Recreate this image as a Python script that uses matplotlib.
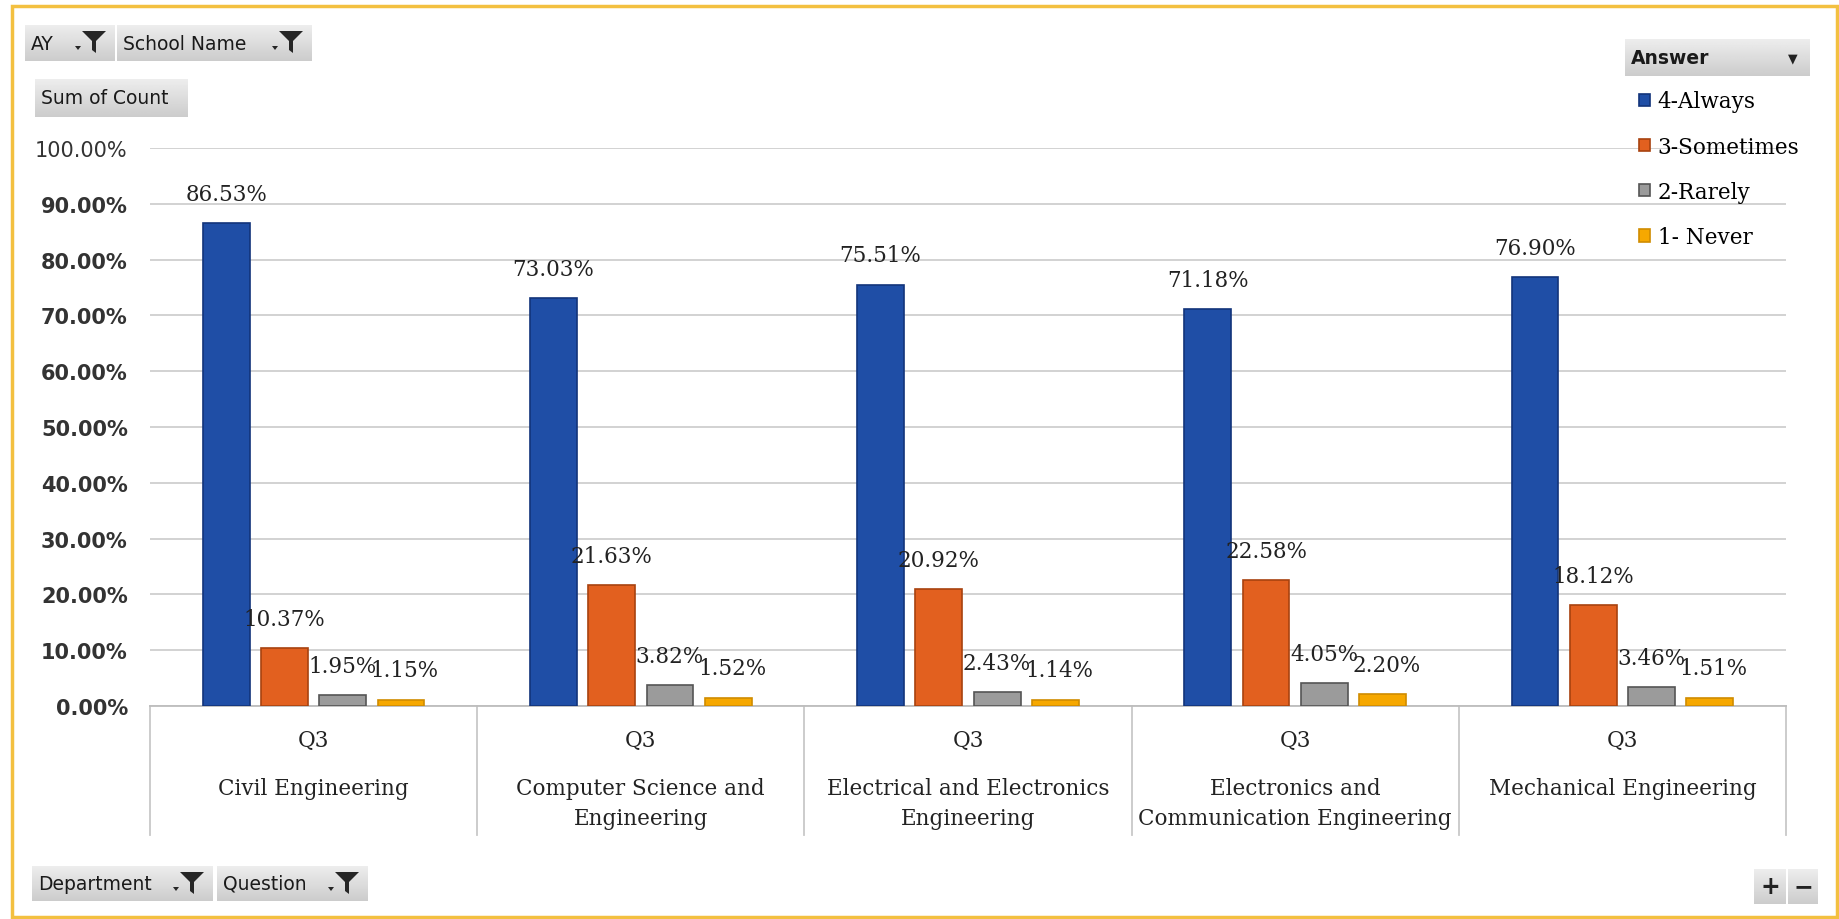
import matplotlib
matplotlib.use("Agg")
import matplotlib.pyplot as plt
import numpy as np
from matplotlib.patches import Polygon, Rectangle

# ---- data ----
departments = ["Civil Engineering", "Computer Science and\nEngineering",
               "Electrical and Electronics\nEngineering",
               "Electronics and\nCommunication Engineering",
               "Mechanical Engineering"]
question = "Q3"
answers = ["4-Always", "3-Sometimes", "2-Rarely", "1- Never"]
always    = [86.53, 73.03, 75.51, 71.18, 76.90]
sometimes = [10.37, 21.63, 20.92, 22.58, 18.12]
rarely    = [1.95, 3.82, 2.43, 4.05, 3.46]
never     = [1.15, 1.52, 1.14, 2.20, 1.51]
yticks = [0, 10, 20, 30, 40, 50, 60, 70, 80, 90, 100]

colors = ["#1f4ea6", "#e2601f", "#9b9b9b", "#f6a800"]
edges  = ["#12347a", "#a8420f", "#555555", "#d08c00"]

W, H = 1839, 920
fig = plt.figure(figsize=(W / 100, H / 100), dpi=100)
fig.patch.set_facecolor("white")

def fx(x):
    return x / W

def fy(y):
    return 1 - y / H

# outer frame of the scanned chart
fig.patches.append(Rectangle((fx(12), fy(918)), fx(1837) - fx(12), fy(7) - fy(918),
                             transform=fig.transFigure, fill=False,
                             edgecolor="#f3c040", linewidth=2.5))

ax = fig.add_axes([fx(150), fy(707), (1786 - 150) / W, (707 - 149) / H])
series = [always, sometimes, rarely, never]
x = np.arange(len(departments))
bw = 0.143
step = 0.178
for i, vals in enumerate(series):
    pos = x + (i - 1.5) * step
    bars = ax.bar(pos, vals, width=bw, color=colors[i], edgecolor=edges[i],
                  linewidth=1.2, label=answers[i], zorder=3)
    for b, v in zip(bars, vals):
        ax.annotate(f"{v:.2f}%", (b.get_x() + b.get_width() / 2 + (0.012 if i == 3 else 0), v),
                    xytext=(0, 21), textcoords="offset points", ha="center",
                    va="center", fontsize=15.5, family="DejaVu Serif",
                    color="#222222", zorder=5)

ax.set_xlim(-0.5, len(departments) - 0.5)
ax.set_ylim(0, 100)
ax.set_yticks(yticks)
ax.set_yticklabels([f"{t:.2f}%" for t in yticks], fontsize=15, family="DejaVu Sans",
                   fontweight="bold", color="#333333")
ax.get_yticklabels()[-1].set_fontweight("normal")
ax.tick_params(axis="y", length=0, pad=16)
ax.set_xticks([])
ax.grid(axis="y", color="#cfcfcf", linewidth=1.3, zorder=0)
for s in ["top", "right", "left"]:
    ax.spines[s].set_visible(False)
ax.spines["bottom"].set_color("#bdbdbd")
ax.spines["bottom"].set_linewidth(1.3)

# category area under the axis
tr = ax.get_xaxis_transform()
for k in range(len(departments) + 1):
    ax.plot([k - 0.5, k - 0.5], [0, -0.232], transform=tr, clip_on=False,
            color="#c8c8c8", linewidth=1.3)
for k, d in enumerate(departments):
    ax.text(k, -0.061, question, transform=tr, ha="center", va="center",
            fontsize=15.5, family="DejaVu Serif", color="#222222")
    ax.text(k, -0.127, d, transform=tr, ha="center", va="top", fontsize=15.5,
            family="DejaVu Serif", color="#222222", linespacing=1.5)

# legend
fig.legend(loc="upper left", bbox_to_anchor=(fx(1620), fy(72)), frameon=False,
           prop={"family": "DejaVu Serif", "size": 15.5},
           handlelength=0.5, handleheight=0.5, handletextpad=0.35,
           labelspacing=1.08)


def gray_box(x0, y0, x1, y1):
    bax = fig.add_axes([fx(x0), fy(y1), (x1 - x0) / W, (y1 - y0) / H])
    grad = np.linspace(0.93, 0.80, 50).reshape(-1, 1)
    bax.imshow(grad, cmap="gray", vmin=0, vmax=1, aspect="auto",
               extent=[0, 1, 0, 1])
    bax.set_xlim(0, 1)
    bax.set_ylim(0, 1)
    bax.axis("off")
    return bax


def funnel(x0, y0):
    pts = [(0, 0), (24, 0), (14, 10), (14, 22), (10, 19), (10, 10)]
    fig.patches.append(Polygon([(fx(x0 + a), fy(y0 + b)) for a, b in pts],
                               closed=True, transform=fig.transFigure,
                               facecolor="#262626", edgecolor="none"))
    arr = [(0, 0), (6, 0), (3, 4)]
    fig.patches.append(Polygon([(fx(x0 - 7 + a), fy(y0 + 15 + b)) for a, b in arr],
                               closed=True, transform=fig.transFigure,
                               facecolor="#262626", edgecolor="none"))


def button(x0, y0, x1, y1, label, filt=True, bold=False):
    gray_box(x0, y0, x1, y1)
    fig.text(fx(x0 + 6), fy((y0 + y1) / 2), label, ha="left", va="center",
             fontsize=13.5, family="DejaVu Sans", color="#1a1a1a",
             fontweight="bold" if bold else "normal")
    if filt:
        funnel(x1 - 33, y0 + 6)


button(25, 26, 115, 62, "AY")
button(117, 26, 312, 62, "School Name")
button(35, 80, 187, 118, "Sum of Count", filt=False)
button(32, 867, 213, 902, "Department")
button(217, 867, 368, 902, "Question")
button(1625, 40, 1810, 77, "Answer", filt=False, bold=True)
fig.text(fx(1793), fy(59), "▼", ha="center", va="center", fontsize=9,
         family="DejaVu Sans", color="#222222")

gray_box(1754, 870, 1786, 905)
gray_box(1788, 870, 1818, 905)
fig.text(fx(1770), fy(887), "+", ha="center", va="center", fontsize=17,
         family="DejaVu Sans", fontweight="bold", color="#222222")
fig.text(fx(1803), fy(887), "−", ha="center", va="center", fontsize=17,
         family="DejaVu Sans", fontweight="bold", color="#222222")

fig.savefig("out.png", dpi=100)
